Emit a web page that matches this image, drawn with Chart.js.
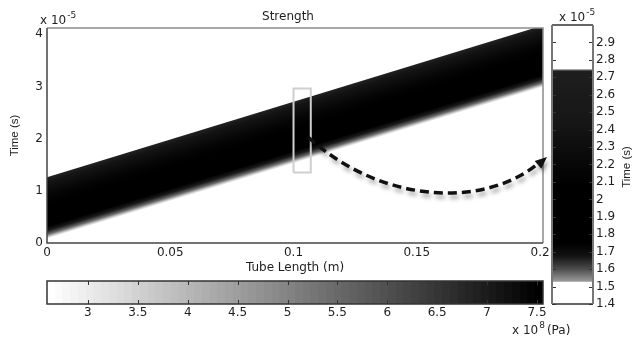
<!DOCTYPE html>
<html>
<head>
<meta charset="utf-8">
<script src="https://cdn.jsdelivr.net/npm/chart.js@4/dist/chart.umd.min.js"></script>
<style>
  html, body { margin: 0; padding: 0; background: #fff; }
  body { width: 633px; height: 339px; position: relative; overflow: hidden; }
  canvas { position: absolute; }
  #mainChart { left: 0; top: 0; }
  #insetChart { left: 545px; top: 0; }
  #barChart { left: 0; top: 275px; }
</style>
</head>
<body>
<canvas id="mainChart" width="633" height="339"></canvas>
<canvas id="insetChart" width="88" height="320"></canvas>
<canvas id="barChart" width="633" height="64"></canvas>
<script>
// main plot: tube length (m) against time (x 1e-5 s)
const bandX = [0, 0.2012];
const bandTop = [1.26, 4.17];
const bandBottom = [0.08, 2.95];
const boxX = [0.1, 0.1, 0.107, 0.107, 0.1];
const boxT = [1.35, 2.96, 2.96, 1.35, 1.35];
const xTicks = [0, 0.05, 0.1, 0.15, 0.2];
const tTicks = [0, 1, 2, 3, 4];

// zoomed inset (x 1e-5 s)
const insetBand = [1.53, 2.745];
const insetTicks = [1.4, 1.5, 1.6, 1.7, 1.8, 1.9, 2, 2.1, 2.2, 2.3, 2.4, 2.5, 2.6, 2.7, 2.8, 2.9];

// colorbar, strength (x 1e8 Pa)
const strengthRange = [2.59, 7.56];
const strengthTicks = [3, 3.5, 4, 4.5, 5, 5.5, 6, 6.5, 7, 7.5];

const WIDE = "'DejaVu Sans', sans-serif";
const NARROW = "'Liberation Sans', Arial, sans-serif";
Chart.defaults.font.family = WIDE;
Chart.defaults.font.size = 12;
Chart.defaults.color = '#1e1e1e';

const fmt = v => String(+Number(v).toFixed(3));

function bandGradient(context) {
    const chart = context.chart;
    const {chartArea, scales} = chart;
    if (!chartArea) return '#000';
    const x0 = scales.x.getPixelForValue(bandX[0]);
    const x1 = scales.x.getPixelForValue(bandX[1]);
    const yt0 = scales.y.getPixelForValue(bandTop[0]);
    const yt1 = scales.y.getPixelForValue(bandTop[1]);
    const yb0 = scales.y.getPixelForValue(bandBottom[0]);
    let dx = x1 - x0, dy = yt1 - yt0;
    const len = Math.hypot(dx, dy);
    dx /= len; dy /= len;
    const nx = -dy, ny = dx;
    const dist = (yb0 - yt0) * ny;
    const g = chart.ctx.createLinearGradient(x0, yt0, x0 + nx * dist, yt0 + ny * dist);
    g.addColorStop(0, '#222');
    g.addColorStop(0.08, '#141414');
    g.addColorStop(0.3, '#050505');
    g.addColorStop(0.45, '#000');
    g.addColorStop(0.8, '#000');
    g.addColorStop(0.87, '#1c1c1c');
    g.addColorStop(0.93, '#6a6a6a');
    g.addColorStop(0.97, '#c8c8c8');
    g.addColorStop(1, '#fff');
    return g;
}

function insetGradient(context) {
    const chart = context.chart;
    const {chartArea, scales} = chart;
    if (!chartArea) return '#000';
    const yTop = scales.y.getPixelForValue(insetBand[1]);
    const yBot = scales.y.getPixelForValue(insetBand[0]);
    const g = chart.ctx.createLinearGradient(0, yTop, 0, yBot);
    g.addColorStop(0, '#8a8a8a');
    g.addColorStop(0.008, '#1e1e1e');
    g.addColorStop(0.25, '#161616');
    g.addColorStop(0.45, '#070707');
    g.addColorStop(0.55, '#000');
    g.addColorStop(0.82, '#000');
    g.addColorStop(0.88, '#121212');
    g.addColorStop(0.94, '#4a4a4a');
    g.addColorStop(1, '#9a9a9a');
    return g;
}

function colorbarGradient(context) {
    const chart = context.chart;
    const {chartArea, scales} = chart;
    if (!chartArea) return '#888';
    const xa = scales.x.getPixelForValue(strengthRange[0]);
    const xb = scales.x.getPixelForValue(strengthRange[1]);
    const g = chart.ctx.createLinearGradient(xa, 0, xb, 0);
    const n = 64;
    for (let i = 0; i < n; i++) {
        const c = Math.round(255 * (1 - i / (n - 1)));
        const col = `rgb(${c},${c},${c})`;
        g.addColorStop(i / n, col);
        g.addColorStop((i + 1) / n - 0.0001, col);
    }
    return g;
}

function drawPower(ctx, x, y, base, exp) {
    ctx.save();
    ctx.fillStyle = '#1e1e1e';
    ctx.textAlign = 'left';
    ctx.textBaseline = 'alphabetic';
    ctx.font = '12px ' + WIDE;
    ctx.fillText(base, x, y);
    const w = ctx.measureText(base).width;
    ctx.font = '9px ' + WIDE;
    ctx.fillText(exp, x + w + 1, y - 6);
    const w2 = ctx.measureText(exp).width;
    ctx.restore();
    return w + w2 + 1;
}

const mainDecor = {
    id: 'mainDecor',
    afterDraw(chart) {
        const {ctx, chartArea: a} = chart;
        ctx.save();
        // axes box
        ctx.lineWidth = 1.5;
        ctx.strokeStyle = '#8c8c8c';
        ctx.beginPath();
        ctx.moveTo(a.left, a.top); ctx.lineTo(a.right, a.top); ctx.lineTo(a.right, a.bottom);
        ctx.stroke();
        ctx.strokeStyle = '#444';
        ctx.beginPath();
        ctx.moveTo(a.left, a.top); ctx.lineTo(a.left, a.bottom); ctx.lineTo(a.right, a.bottom);
        ctx.stroke();

        // title and exponent
        ctx.fillStyle = '#1e1e1e';
        ctx.font = '12px ' + WIDE;
        ctx.textAlign = 'center';
        ctx.textBaseline = 'middle';
        ctx.fillText('Strength', 288, 17);
        drawPower(ctx, 40, 24, 'x 10', '-5');

        // dashed arrow to the inset
        const p0 = [308, 137], p1 = [385, 207], p2 = [490, 207], p3 = [547, 157];
        ctx.shadowColor = 'rgba(0,0,0,0.35)';
        ctx.shadowBlur = 4;
        ctx.shadowOffsetX = 2;
        ctx.shadowOffsetY = 4;
        ctx.strokeStyle = '#111';
        ctx.lineWidth = 3.5;
        ctx.setLineDash([9, 5]);
        ctx.beginPath();
        ctx.moveTo(p0[0], p0[1]);
        ctx.bezierCurveTo(p1[0], p1[1], p2[0], p2[1], p3[0] - 6, p3[1] + 4);
        ctx.stroke();
        ctx.setLineDash([]);
        const ang = Math.atan2(p3[1] - p2[1], p3[0] - p2[0]);
        ctx.fillStyle = '#111';
        ctx.beginPath();
        ctx.moveTo(p3[0], p3[1]);
        ctx.lineTo(p3[0] - 13 * Math.cos(ang - 0.4), p3[1] - 13 * Math.sin(ang - 0.4));
        ctx.lineTo(p3[0] - 13 * Math.cos(ang + 0.4), p3[1] - 13 * Math.sin(ang + 0.4));
        ctx.closePath();
        ctx.fill();
        ctx.restore();
    }
};

const insetDecor = {
    id: 'insetDecor',
    afterDraw(chart) {
        const {ctx, chartArea: a, scales} = chart;
        ctx.save();
        ctx.strokeStyle = '#333';
        ctx.lineWidth = 1;
        insetTicks.forEach(v => {
            const y = Math.round(scales.y.getPixelForValue(v)) + 0.5;
            ctx.beginPath();
            ctx.moveTo(a.left, y); ctx.lineTo(a.left + 4, y);
            ctx.moveTo(a.right - 4, y); ctx.lineTo(a.right, y);
            ctx.stroke();
        });
        ctx.lineWidth = 1.5;
        ctx.beginPath();
        ctx.moveTo(a.left, a.top); ctx.lineTo(a.right, a.top);
        ctx.moveTo(a.left, a.bottom); ctx.lineTo(a.right, a.bottom);
        ctx.stroke();
        ctx.strokeStyle = '#777';
        ctx.lineWidth = 2;
        ctx.beginPath();
        ctx.moveTo(a.left, a.top); ctx.lineTo(a.left, a.bottom);
        ctx.moveTo(a.right, a.top); ctx.lineTo(a.right, a.bottom);
        ctx.stroke();

        drawPower(ctx, 14, 21, 'x 10', '-5');
        ctx.translate(82, 167);
        ctx.rotate(-Math.PI / 2);
        ctx.fillStyle = '#1e1e1e';
        ctx.font = '11.5px ' + NARROW;
        ctx.textAlign = 'center';
        ctx.textBaseline = 'middle';
        ctx.fillText('Time (s)', 0, 0);
        ctx.restore();
    }
};

const colorbarDecor = {
    id: 'colorbarDecor',
    afterDraw(chart) {
        const {ctx, chartArea: a, scales} = chart;
        ctx.save();
        ctx.strokeStyle = '#333';
        ctx.lineWidth = 1;
        strengthTicks.forEach(v => {
            const x = Math.round(scales.x.getPixelForValue(v)) + 0.5;
            ctx.beginPath();
            ctx.moveTo(x, a.top); ctx.lineTo(x, a.top + 4);
            ctx.moveTo(x, a.bottom - 4); ctx.lineTo(x, a.bottom);
            ctx.stroke();
        });
        ctx.lineWidth = 1.5;
        ctx.strokeRect(a.left, a.top, a.right - a.left, a.bottom - a.top);
        const w = drawPower(ctx, 512, 59, 'x 10', '8');
        ctx.fillStyle = '#1e1e1e';
        ctx.font = '12px ' + WIDE;
        ctx.fillText('(Pa)', 512 + w + 2, 59);
        ctx.restore();
    }
};

new Chart(document.getElementById('mainChart'), {
    type: 'line',
    data: {
        datasets: [
            {
                data: bandX.map((x, i) => ({x: x, y: bandTop[i]})),
                borderWidth: 0, pointRadius: 0, fill: false, order: 2
            },
            {
                data: bandX.map((x, i) => ({x: x, y: bandBottom[i]})),
                borderWidth: 0, pointRadius: 0, fill: '-1',
                backgroundColor: bandGradient, order: 1
            },
            {
                data: boxX.map((x, i) => ({x: x, y: boxT[i]})),
                borderColor: '#cfcfcf', borderWidth: 2, pointRadius: 0,
                fill: false, tension: 0, order: 0
            }
        ]
    },
    options: {
        responsive: false,
        animation: false,
        events: [],
        layout: { padding: { left: 0, top: 28, right: 90, bottom: 64 } },
        plugins: { legend: { display: false }, tooltip: { enabled: false } },
        scales: {
            x: {
                type: 'linear', min: 0, max: 0.2012,
                grid: { display: false, drawTicks: false }, border: { display: false },
                ticks: { padding: 3, maxRotation: 0, callback: fmt },
                afterBuildTicks: s => { s.ticks = xTicks.map(v => ({value: v})); },
                afterFit: s => { s.height = 32; },
                title: { display: true, text: 'Tube Length (m)', padding: 0 }
            },
            y: {
                type: 'linear', min: 0, max: 4.12,
                grid: { display: false, drawTicks: false }, border: { display: false },
                ticks: { padding: 4, callback: fmt },
                afterBuildTicks: s => { s.ticks = tTicks.map(v => ({value: v})); },
                afterFit: s => { s.width = 47; },
                title: {
                    display: true, text: 'Time (s)',
                    font: { family: NARROW, size: 11.5 },
                    padding: { top: 8, bottom: 0 }
                }
            }
        }
    },
    plugins: [mainDecor]
});

new Chart(document.getElementById('insetChart'), {
    type: 'bar',
    data: {
        labels: [''],
        datasets: [{
            data: [insetBand],
            backgroundColor: insetGradient,
            barPercentage: 1, categoryPercentage: 1, borderWidth: 0
        }]
    },
    options: {
        responsive: false,
        animation: false,
        events: [],
        layout: { padding: { left: 7, top: 25, right: 0, bottom: 16 } },
        plugins: { legend: { display: false }, tooltip: { enabled: false } },
        scales: {
            x: { display: false },
            y: {
                position: 'right', min: 1.4, max: 3.0,
                grid: { display: false, drawTicks: false }, border: { display: false },
                ticks: { padding: 3, callback: fmt },
                afterBuildTicks: s => { s.ticks = insetTicks.map(v => ({value: v})); },
                afterFit: s => { s.width = 40; }
            }
        }
    },
    plugins: [insetDecor]
});

new Chart(document.getElementById('barChart'), {
    type: 'bar',
    data: {
        labels: [''],
        datasets: [{
            data: [strengthRange],
            backgroundColor: colorbarGradient,
            barPercentage: 1, categoryPercentage: 1, borderWidth: 0
        }]
    },
    options: {
        indexAxis: 'y',
        responsive: false,
        animation: false,
        events: [],
        layout: { padding: { left: 47, top: 6, right: 90, bottom: 0 } },
        plugins: { legend: { display: false }, tooltip: { enabled: false } },
        scales: {
            y: { display: false },
            x: {
                type: 'linear', min: strengthRange[0], max: strengthRange[1],
                grid: { display: false, drawTicks: false }, border: { display: false },
                ticks: { padding: 2, maxRotation: 0, callback: fmt },
                afterBuildTicks: s => { s.ticks = strengthTicks.map(v => ({value: v})); },
                afterFit: s => { s.height = 35; }
            }
        }
    },
    plugins: [colorbarDecor]
});
</script>
</body>
</html>
